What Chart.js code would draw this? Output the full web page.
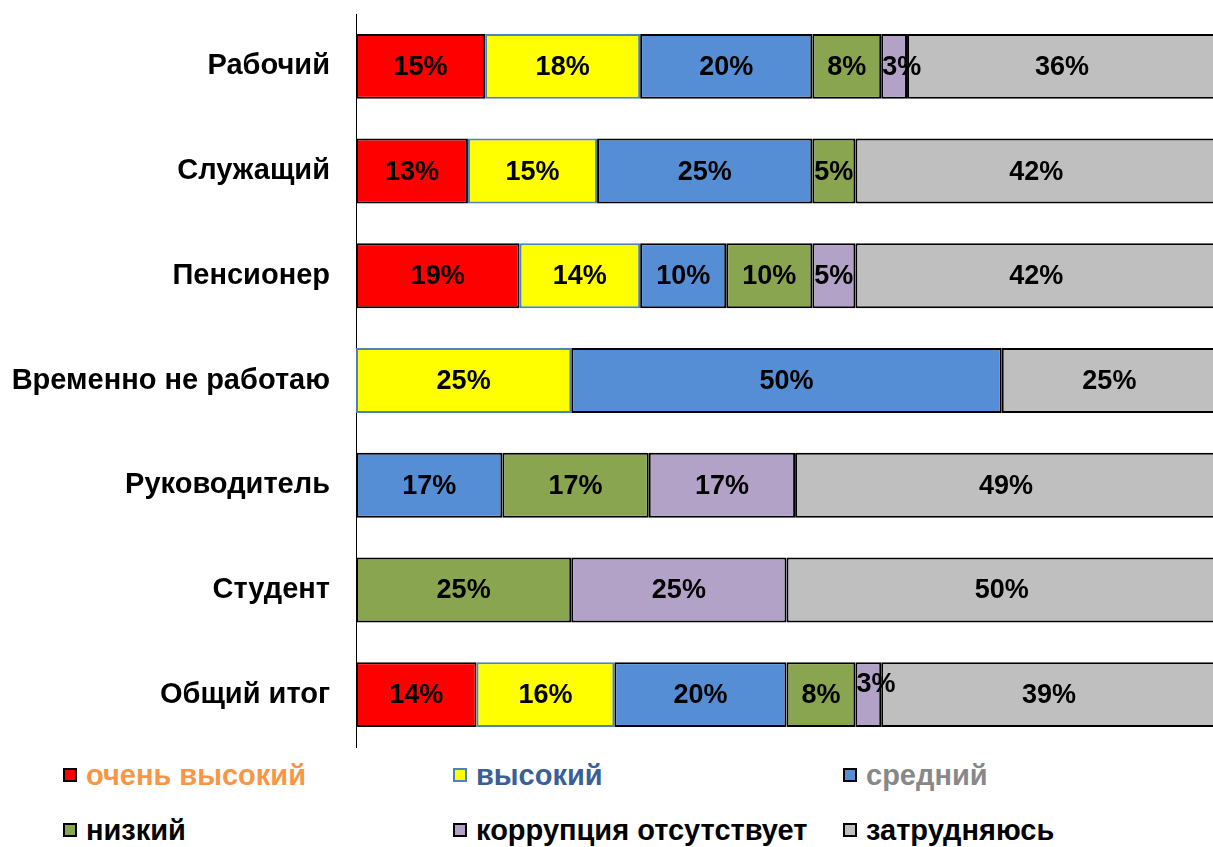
<!DOCTYPE html>
<html>
<head>
<meta charset="utf-8">
<script src="https://cdn.jsdelivr.net/npm/chart.js@4.4.1/dist/chart.umd.min.js"></script>
<style>
  html, body { margin: 0; padding: 0; background: #fff; overflow: hidden; }
  #wrap { position: relative; width: 1213px; height: 847px; overflow: hidden; }
  #chartBox { position: absolute; left: 0; top: 0; width: 1220px; height: 750px; }
  .lg { position: absolute; display: flex; align-items: center; font-family: "Liberation Sans", Arial, sans-serif; font-weight: bold; font-size: 29px; white-space: nowrap; }
  .lg .bx { width: 10px; height: 10px; border: 2px solid #000; margin-right: 9px; flex: none; }
</style>
</head>
<body>
<div id="wrap">
  <div id="chartBox"><canvas id="c" width="1220" height="750"></canvas></div>
</div>
<script>
const categories = ["Рабочий", "Служащий", "Пенсионер", "Временно не работаю", "Руководитель", "Студент", "Общий итог"];
const seriesNames = ["очень высокий", "высокий", "средний", "низкий", "коррупция отсутствует", "затрудняюсь"];
const veryHigh = [15, 13, 19, 0, 0, 0, 14];
const high     = [18, 15, 14, 25, 0, 0, 16];
const medium   = [20, 25, 10, 50, 17, 0, 20];
const low      = [8, 5, 10, 0, 17, 25, 8];
const noCorr   = [3, 0, 5, 0, 17, 25, 3];
const hard     = [36, 42, 42, 25, 49, 50, 39];
const xTicks   = [0, 100];

const fills   = ["#FF0000", "#FFFF00", "#558ED5", "#8AA54F", "#B3A2C7", "#BFBFBF"];
const borders = ["#000000", "#4F81BD", "#000000", "#000000", "#000000", "#000000"];
const legendText = ["#F79646", "#3A5F96", "#888888", "#000000", "#000000", "#000000"];
const values = [veryHigh, high, medium, low, noCorr, hard];

const datasets = values.map((v, i) => ({
  label: seriesNames[i],
  data: v,
  backgroundColor: fills[i],
  borderColor: borders[i],
  borderWidth: 2,
  borderSkipped: false,
  categoryPercentage: 1,
  barPercentage: 0.62
}));

const labelPlugin = {
  id: "segLabels",
  afterDatasetsDraw(chart) {
    const ctx = chart.ctx;
    ctx.save();
    ctx.font = "bold 27px 'Liberation Sans', Arial, sans-serif";
    ctx.fillStyle = "#000";
    ctx.textAlign = "center";
    ctx.textBaseline = "middle";
    chart.data.datasets.forEach((ds, di) => {
      const meta = chart.getDatasetMeta(di);
      meta.data.forEach((el, i) => {
        const v = ds.data[i];
        if (!v) return;
        const p = el.getProps(["x", "y", "base"], true);
        let cx = (p.x + p.base) / 2;
        let cy = p.y + 1;
        const w = Math.abs(p.x - p.base);
        const tw = ctx.measureText(v + "%").width;
        if (tw > w && i === categories.length - 1) cy -= 11;
        if (tw > w) cx = Math.min(p.base, p.x) + tw / 2 + 1;
        ctx.fillText(v + "%", cx, cy);
      });
    });
    ctx.restore();
  }
};

new Chart(document.getElementById("c"), {
  type: "bar",
  data: { labels: categories, datasets },
  options: {
    indexAxis: "y",
    responsive: false,
    animation: false,
    layout: { padding: { top: 14, bottom: 3, right: 3, left: 0 } },
    plugins: { legend: { display: false }, tooltip: { enabled: false } },
    scales: {
      x: { stacked: true, display: false, min: xTicks[0], max: xTicks[1] },
      y: {
        stacked: true,
        grid: { display: false, drawTicks: false },
        border: { display: true, color: "#000", width: 1 },
        ticks: {
          color: "#000",
          padding: 26,
          font: { family: "'Liberation Sans', Arial, sans-serif", size: 29, weight: "bold" }
        },
        afterFit(s) { s.width = 356; s.paddingTop = 0; s.paddingBottom = 0; }
      }
    }
  },
  plugins: [labelPlugin]
});

// HTML legend
const wrap = document.getElementById("wrap");
const colX = [63, 453, 843];
const rowY = [775, 830];
seriesNames.forEach((name, i) => {
  const d = document.createElement("div");
  d.className = "lg";
  d.style.left = colX[i % 3] + "px";
  d.style.top = (rowY[Math.floor(i / 3)] - 18) + "px";
  d.style.height = "36px";
  d.style.color = legendText[i];
  const b = document.createElement("span");
  b.className = "bx";
  b.style.background = fills[i];
  b.style.borderColor = i === 1 ? borders[1] : "#000";
  d.appendChild(b);
  d.appendChild(document.createTextNode(name));
  wrap.appendChild(d);
});
</script>
</body>
</html>
